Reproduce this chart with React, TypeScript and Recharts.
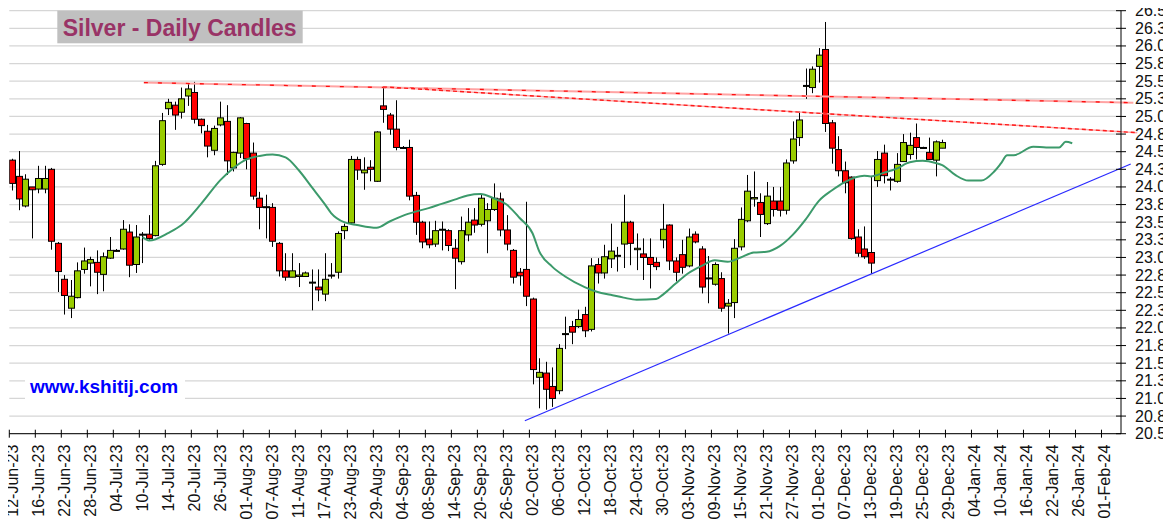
import { ComposedChart, Bar, Line, XAxis, YAxis, CartesianGrid, ReferenceLine } from "recharts";

// Silver daily candles, Jun-Dec 2023, with a displaced moving average
// and hand-drawn trend lines. X axis counts weekdays from 12-Jun-23.

const DATE_TICKS = [
  "12-Jun-23", "16-Jun-23", "22-Jun-23", "28-Jun-23", "04-Jul-23", "10-Jul-23", "14-Jul-23",
  "20-Jul-23", "26-Jul-23", "01-Aug-23", "07-Aug-23", "11-Aug-23", "17-Aug-23", "23-Aug-23",
  "29-Aug-23", "04-Sep-23", "08-Sep-23", "14-Sep-23", "20-Sep-23", "26-Sep-23", "02-Oct-23",
  "06-Oct-23", "12-Oct-23", "18-Oct-23", "24-Oct-23", "30-Oct-23", "03-Nov-23", "09-Nov-23",
  "15-Nov-23", "21-Nov-23", "27-Nov-23", "01-Dec-23", "07-Dec-23", "13-Dec-23", "19-Dec-23",
  "25-Dec-23", "29-Dec-23", "04-Jan-24", "10-Jan-24", "16-Jan-24", "22-Jan-24", "26-Jan-24",
  "01-Feb-24",
];
const DAYS_PER_TICK = 4;

const PRICE_TICKS = [
  20.5, 20.75, 21, 21.25, 21.5, 21.75, 22, 22.25, 22.5, 22.75, 23, 23.25, 23.5,
  23.75, 24, 24.25, 24.5, 24.75, 25, 25.25, 25.5, 25.75, 26, 26.25, 26.5,
];

const OPEN = [
  24.38, 24.15, 23.73, 24.0, 23.97, 23.97, 24.25, 23.2, 22.69, 22.28,
  22.43, 22.83, 22.92, 22.93, 22.76, 22.99, 23.1, 23.12, 23.36, 22.9,
  23.33, 23.33, 23.31, 24.32, 25.11, 25.16, 25.06, 25.29, 25.34, 24.96,
  24.79, 24.52, 24.88, 24.93, 24.27, 24.48, 24.9, 24.48, 23.84, 23.71,
  23.71, 23.2, 22.81, 22.72, 22.73, 22.73, 22.64, 22.58, 22.48, 22.74,
  22.79, 23.38, 23.49, 24.39, 24.2, 24.28, 24.08, 25.15, 25.02, 24.82,
  24.56, 24.56, 23.88, 23.5, 23.26, 23.19, 23.39, 23.38, 23.13, 22.94,
  23.32, 23.53, 23.47, 23.52, 23.68, 23.83, 23.39, 23.1, 22.79, 22.83,
  22.41, 21.3, 21.36, 21.17, 21.11, 21.91, 22.02, 22.02, 22.19, 21.98,
  22.9, 22.78, 22.98, 23.03, 23.19, 23.5, 23.11, 23.05, 23.0, 22.93,
  23.25, 23.46, 22.95, 23.04, 22.88, 23.33, 23.12, 22.71, 22.62, 22.7,
  22.31, 22.36, 23.15, 23.52, 23.83, 23.78, 23.48, 23.8, 23.8, 23.67,
  24.37, 24.7, 25.44, 25.41, 25.71, 25.95, 24.91, 24.53, 24.23, 24.14,
  23.29, 23.12, 23.07, 24.09, 24.48, 24.11, 24.08, 24.36, 24.46, 24.7,
  24.56, 24.49, 24.38, 24.55,
];
const HIGH = [
  24.4, 24.51, 24.18, 24.0, 24.3, 24.3, 24.27, 23.22, 22.75, 22.68,
  22.93, 23.14, 23.01, 23.1, 23.07, 23.29, 23.12, 23.53, 23.47, 23.46,
  23.36, 23.6, 24.37, 25.05, 25.25, 25.21, 25.41, 25.47, 25.49, 24.97,
  24.88, 24.87, 25.21, 25.16, 24.5, 24.99, 24.91, 24.63, 23.93, 23.89,
  23.77, 23.22, 23.06, 23.06, 22.92, 22.8, 22.83, 22.83, 23.06, 22.92,
  23.37, 23.48, 24.44, 24.43, 24.42, 24.38, 24.79, 25.42, 25.05, 25.23,
  24.58, 24.67, 23.93, 23.52, 23.51, 23.52, 23.51, 23.4, 23.26, 23.58,
  23.7, 23.7, 23.89, 23.77, 24.05, 23.92, 23.6, 23.12, 22.85, 23.79,
  22.43, 21.57, 21.52, 21.44, 21.77, 22.16, 22.1, 22.26, 22.3, 22.99,
  22.99, 23.18, 23.48, 23.15, 23.89, 23.52, 23.34, 23.27, 23.27, 23.0,
  23.76, 23.47, 23.0, 23.25, 23.41, 23.37, 23.16, 23.02, 22.93, 22.79,
  22.41, 23.26, 23.71, 24.17, 24.22, 23.91, 24.07, 24.0, 24.0, 24.39,
  24.93, 25.07, 25.68, 25.71, 25.97, 26.34, 24.95, 24.72, 24.36, 24.15,
  23.4, 23.44, 24.14, 24.51, 24.6, 24.14, 24.48, 24.75, 24.77, 24.9,
  24.57, 24.7, 24.66, 24.67,
];
const LOW = [
  23.95, 23.67, 23.71, 23.27, 23.91, 23.91, 23.11, 22.51, 22.19, 22.14,
  22.42, 22.77, 22.59, 22.48, 22.52, 22.98, 23.08, 23.11, 22.72, 22.78,
  22.92, 23.25, 23.3, 24.3, 25.02, 24.81, 24.97, 25.15, 24.9, 24.76,
  24.42, 24.45, 24.86, 24.17, 24.22, 24.41, 24.25, 23.82, 23.4, 23.27,
  23.15, 22.73, 22.67, 22.72, 22.58, 22.73, 22.25, 22.38, 22.38, 22.7,
  22.7, 23.26, 23.46, 24.1, 23.96, 24.08, 24.07, 24.91, 24.74, 24.52,
  24.54, 23.81, 23.32, 23.13, 23.13, 23.15, 23.1, 23.09, 22.55, 22.9,
  23.23, 23.35, 23.44, 23.06, 23.66, 23.3, 23.1, 22.63, 22.6, 22.31,
  21.2, 20.86, 20.84, 20.88, 21.06, 21.7, 21.77, 22.0, 21.87, 21.95,
  22.63, 22.7, 22.85, 22.8, 22.85, 22.89, 22.82, 22.68, 22.56, 22.82,
  23.13, 22.82, 22.66, 22.77, 22.86, 23.2, 22.49, 22.35, 22.6, 22.23,
  21.92, 22.14, 23.1, 23.5, 23.72, 23.29, 23.46, 23.58, 23.58, 23.61,
  24.33, 24.58, 25.25, 25.33, 25.48, 24.78, 24.33, 24.15, 23.91, 23.25,
  23.01, 22.98, 22.77, 24.0, 24.05, 23.95, 24.06, 24.36, 24.39, 24.39,
  24.55, 24.39, 24.15, 24.55,
];
const CLOSE = [
  24.05, 23.83, 24.11, 23.96, 24.12, 24.12, 23.23, 22.8, 22.46, 22.45,
  22.81, 22.95, 22.97, 22.79, 23.01, 23.1, 23.1, 23.4, 22.89, 23.29,
  23.33, 23.27, 24.3, 24.94, 25.2, 25.02, 25.25, 25.39, 24.96, 24.87,
  24.58, 24.83, 24.98, 24.37, 24.49, 24.98, 24.4, 23.87, 23.71, 23.72,
  23.23, 22.81, 22.72, 22.81, 22.75, 22.78, 22.65, 22.54, 22.69, 22.75,
  23.34, 23.44, 24.39, 24.24, 24.24, 24.25, 24.78, 25.1, 24.82, 24.56,
  24.56, 23.87, 23.5, 23.22, 23.18, 23.38, 23.4, 23.17, 22.99, 23.38,
  23.5, 23.46, 23.84, 23.68, 23.84, 23.39, 23.19, 22.72, 22.74, 22.45,
  21.41, 21.37, 21.13, 21.0, 21.71, 21.92, 21.94, 22.12, 21.96, 22.88,
  22.78, 23.01, 23.09, 23.03, 23.5, 23.2, 23.13, 23.0, 22.9, 22.87,
  23.4, 22.95, 22.79, 22.86, 23.29, 23.22, 22.58, 22.71, 22.9, 22.28,
  22.35, 23.13, 23.54, 23.94, 23.85, 23.61, 23.87, 23.68, 23.67, 24.34,
  24.68, 24.95, 25.44, 25.67, 25.87, 24.9, 24.55, 24.23, 24.06, 23.27,
  23.06, 23.01, 22.92, 24.39, 24.16, 24.11, 24.32, 24.63, 24.59, 24.56,
  24.56, 24.39, 24.64, 24.63,
];

// displaced moving average at these weekday indices
const MA_DAYS = [
  20, 21, 24, 26, 29, 32, 34, 36, 38, 40, 42, 44, 46, 48, 49, 51, 53, 56, 58, 60,
  62, 64, 66, 68, 70, 72, 74, 76, 78, 80, 81, 83, 85, 88, 90, 92, 94, 96, 99, 100,
  102, 104, 106, 108, 110, 112, 114, 116, 118, 120, 122, 124, 126, 128, 131, 132, 134, 136, 138, 140,
  142, 143, 145, 147, 149, 151, 152, 153, 154, 157, 159, 161, 162, 163,
];
const MA_VALUES = [
  23.29, 23.24, 23.35, 23.46, 23.76, 24.1, 24.27, 24.39, 24.44, 24.46,
  24.42, 24.24, 24.0, 23.76, 23.63, 23.5, 23.46, 23.42, 23.51, 23.59,
  23.65, 23.7, 23.76, 23.82, 23.88, 23.9, 23.84, 23.75, 23.56, 23.34,
  23.09, 22.87, 22.73, 22.58, 22.51, 22.47, 22.43, 22.4, 22.41, 22.47,
  22.63, 22.78, 22.88, 22.96, 22.94, 23.0, 23.07, 23.08, 23.16, 23.32,
  23.54, 23.8, 23.95, 24.07, 24.16, 24.15, 24.2, 24.26, 24.35, 24.37,
  24.34, 24.31, 24.17, 24.09, 24.09, 24.22, 24.33, 24.45, 24.45, 24.57,
  24.56, 24.56, 24.64, 24.62,
];

// trend lines as [day, price] end points
const RESIST_UPPER = [[20.7, 25.48], [172.9, 25.195]];
const RESIST_LOWER = [[57.5, 25.42], [173.5, 24.77]];
const SUPPORT = [[79.3, 20.684], [172.5, 24.325]];

const FONT = "Arial, 'Liberation Sans', sans-serif";
const W = 1171;
const H = 526;

const maByDay = new Map(MA_DAYS.map((d, i) => [d, MA_VALUES[i]]));
const lastDay = Math.max(OPEN.length - 1, MA_DAYS[MA_DAYS.length - 1]);
const data = [];
for (let d = 0; d <= lastDay; d++) {
  const hasCandle = d < OPEN.length;
  data.push({
    x: d + 0.5,
    range: hasCandle ? [LOW[d], HIGH[d]] : null,
    open: hasCandle ? OPEN[d] : null,
    close: hasCandle ? CLOSE[d] : null,
    ma: maByDay.has(d) ? maByDay.get(d) : null,
  });
}
const tickDays = DATE_TICKS.map((_, k) => k * DAYS_PER_TICK);

const seg = (s: number[][]) => s.map(([x, y]) => ({ x, y }));

function Candle(props: any) {
  const { x, y, width, height, payload } = props;
  if (!payload || payload.open == null || !payload.range) return null;
  const [lo, hi] = payload.range;
  const top = Math.min(y, y + height);
  const bot = Math.max(y, y + height);
  const k = (bot - top) / (hi - lo);
  const py = (v: number) => top + (hi - v) * k;
  const cx = Math.round(x + width / 2) + 0.5;
  const yo = py(payload.open);
  const yc = py(payload.close);
  const bTop = Math.min(yo, yc);
  const bH = Math.max(Math.abs(yo - yc), 1);
  const up = payload.close >= payload.open;
  return (
    <g>
      <line x1={cx} x2={cx} y1={top} y2={bot} stroke="#000" strokeWidth={1} />
      <rect x={cx - 3} y={bTop} width={6} height={bH} fill={up ? "#99cc00" : "#ff0000"} stroke="#000" strokeWidth={1} />
    </g>
  );
}

function DateTick(props: any) {
  const { x, y, payload } = props;
  const label = DATE_TICKS[Math.round(payload.value / DAYS_PER_TICK)];
  const bx = x + 8.5;
  const by = y + 11;
  return (
    <g>
      <line x1={x} x2={x} y1={y - 4} y2={y + 4} stroke="#000" />
      <text x={bx} y={by} transform={`rotate(-90 ${bx} ${by})`} textAnchor="end" fontSize={16} fontFamily={FONT} fill="#111">
        {label}
      </text>
    </g>
  );
}

function PriceTick(props: any) {
  const { x, y, payload } = props;
  return (
    <g>
      <line x1={x - 5} x2={x + 5} y1={y} y2={y} stroke="#000" />
      <text x={x + 14} y={y} dy={5.5} textAnchor="start" fontSize={16} fontFamily={FONT} fill="#111">
        {Number(payload.value).toFixed(1)}
      </text>
    </g>
  );
}

export default function App() {
  // pulled back over the body margin so the chart fills the whole window
  return (
    <div style={{ position: "relative", left: -8, top: -8, width: W, height: H }}>
      <ComposedChart width={W} height={H} data={data} margin={{ top: 10.7, right: 0, bottom: 2.3, left: 9.3 }}>
        <CartesianGrid vertical={false} stroke="#d6d6d6" strokeWidth={1.3} />
        <XAxis
          dataKey="x"
          type="number"
          domain={[0, 171]}
          ticks={tickDays}
          interval={0}
          allowDataOverflow
          height={90}
          tickSize={0}
          tickMargin={0}
          tickLine={false}
          axisLine={{ stroke: "#000" }}
          tick={(p: any) => <DateTick {...p} />}
        />
        <YAxis
          orientation="right"
          type="number"
          domain={[20.5, 26.5]}
          ticks={PRICE_TICKS}
          interval={0}
          allowDataOverflow
          width={50}
          tickSize={0}
          tickMargin={0}
          tickLine={false}
          axisLine={{ stroke: "#000" }}
          tick={(p: any) => <PriceTick {...p} />}
        />
        <Line
          dataKey="ma"
          type="monotone"
          stroke="#3c9a6b"
          strokeWidth={2}
          dot={false}
          activeDot={false}
          connectNulls
          isAnimationActive={false}
        />
        <Bar dataKey="range" shape={(p: any) => <Candle {...p} />} isAnimationActive={false} />
        <ReferenceLine segment={seg(RESIST_UPPER)} stroke="#ffa3a3" strokeWidth={2} ifOverflow="visible" />
        <ReferenceLine segment={seg(RESIST_UPPER)} stroke="#ff1010" strokeWidth={1.3} strokeDasharray="4 10" ifOverflow="visible" />
        <ReferenceLine segment={seg(RESIST_LOWER)} stroke="#ffa8a8" strokeWidth={1.5} ifOverflow="visible" />
        <ReferenceLine segment={seg(RESIST_LOWER)} stroke="#ff1a1a" strokeWidth={1.4} strokeDasharray="4 3" ifOverflow="visible" />
        <ReferenceLine segment={seg(SUPPORT)} stroke="#2a2aff" strokeWidth={1.2} ifOverflow="visible" />
      </ComposedChart>
      <svg width={W} height={H} style={{ position: "absolute", left: 0, top: 0, pointerEvents: "none" }}>
        <rect x={57.3} y={10.7} width={245.4} height={32.6} fill="#c0c0c0" />
        <text x={62.7} y={35.7} fontSize={23} fontWeight="bold" fontFamily={FONT} fill="#993366">
          Silver - Daily Candles
        </text>
        <rect x={25} y={374} width={160} height={28} fill="#ffffff" />
        <text x={30} y={393.3} fontSize={19} fontWeight="bold" fontFamily={FONT} fill="#0000ff">
          www.kshitij.com
        </text>
      </svg>
    </div>
  );
}
